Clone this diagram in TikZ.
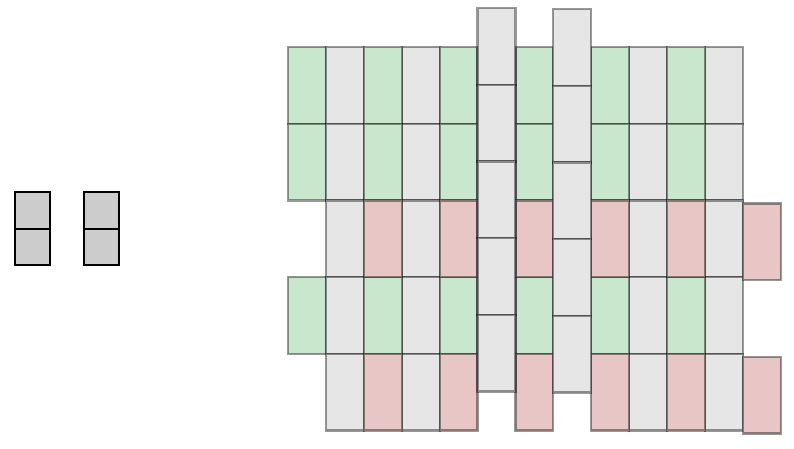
\documentclass[tikz,border=0pt]{standalone}
\definecolor{cgreen}{HTML}{C9E7CC}
\definecolor{cgray}{HTML}{E6E6E6}
\definecolor{cred}{HTML}{E8C6C6}
\definecolor{cdark}{HTML}{CCCCCC}
\tikzset{
  cell/.style={rectangle, anchor=north west, minimum width=37.9pt, minimum height=76.7pt,
    inner sep=0pt, outer sep=0pt, draw=black, draw opacity=0.4, line width=2.2pt},
  gcell/.style={cell, fill=cgreen},
  ecell/.style={cell, fill=cgray},
  rcell/.style={cell, fill=cred},
  smallbox/.style={rectangle, anchor=north west, minimum width=35pt, minimum height=36.5pt,
    inner sep=0pt, outer sep=0pt, draw=black, line width=2pt, fill=cdark}
}
\begin{document}
\begin{tikzpicture}[x=1pt,y=-1pt]
\useasboundingbox (0,0) rectangle (794,448);
% left pair
\node[smallbox] (s1a) at (15,192) {};
\node[smallbox] (s1b) at (15,228.5) {};
\node[smallbox] (s2a) at (84,192) {};
\node[smallbox] (s2b) at (84,228.5) {};
% column 0
\foreach \j in {1,2,4} \node[gcell] (c0-\j) at (288,{47+76.7*(\j-1)}) {};
% gray columns
\foreach \i in {1,3,9,11} \foreach \j in {1,...,5}
  \node[ecell] (c\i-\j) at ({288+37.9*\i},{47+76.7*(\j-1)}) {};
% green/red columns
\foreach \i in {2,4,6,8,10} {
  \foreach \j in {1,2,4} \node[gcell] (c\i-\j) at ({288+37.9*\i},{47+76.7*(\j-1)}) {};
  \foreach \j in {3,5} \node[rcell] (c\i-\j) at ({288+37.9*\i},{47+76.7*(\j-1)}) {};
}
% column 12
\foreach \j in {3,5} \node[rcell] (c12-\j) at ({288+37.9*12},{50+76.7*(\j-1)}) {};
% tall columns
\foreach \j in {1,...,5} \node[ecell] (c5-\j) at ({288+37.9*5},{8+76.7*(\j-1)}) {};
\foreach \j in {1,...,5} \node[ecell] (c7-\j) at ({288+37.9*7},{9+76.7*(\j-1)}) {};
\end{tikzpicture}
\end{document}
